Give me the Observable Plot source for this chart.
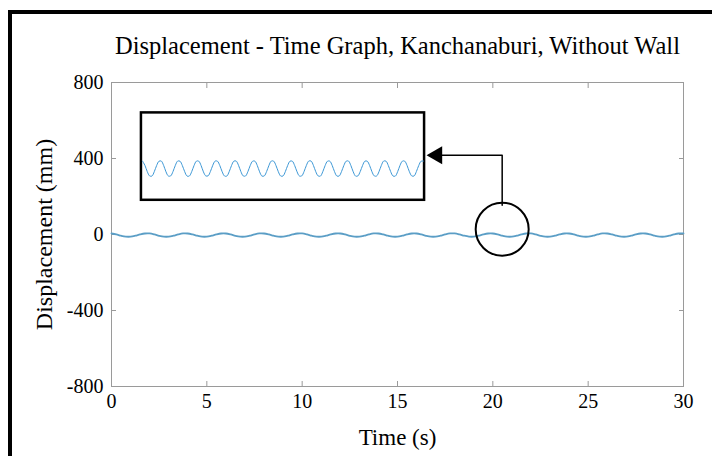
<!DOCTYPE html>
<html>
<head>
<meta charset="utf-8">
<script src="https://cdn.jsdelivr.net/npm/d3@7"></script>
<script src="https://cdn.jsdelivr.net/npm/@observablehq/plot@0.6"></script>
<style>
  html, body { margin: 0; padding: 0; background: #fff; overflow: hidden; width: 712px; height: 456px; }
  #wrap { position: relative; width: 712px; height: 456px; }
  #chart { position: absolute; left: 0; top: 0; }
  #border { position: absolute; left: 8px; top: 10px; width: 760px; height: 520px;
            border: 4px solid #000; box-sizing: border-box; pointer-events: none; }
</style>
</head>
<body>
<div id="wrap"><div id="chart"></div><div id="border"></div></div>
<script>
// Displacement response (mm), sampled every 0.25 s from 0 to 30 s
const sampleInterval = 0.25;
const displacement = [
  5.3, 0.6, -6.4, -11.2, -11.4, -6.5, 0.4, 5.2,
  5.4, 0.5, -6.6, -11.3, -11.2, -6.3, 0.6, 5.4,
  5.2, 0.3, -6.5, -11.4, -11.3, -6.4, 0.5, 5.3,
  5.3, 0.4, -6.7, -11.2, -11.1, -6.2, 0.7, 5.4,
  5.2, 0.4, -6.5, -11.3, -11.4, -6.5, 0.4, 5.3,
  5.4, 0.6, -6.4, -11.2, -11.3, -6.4, 0.5, 5.2,
  5.3, 0.5, -6.6, -11.4, -11.2, -6.3, 0.6, 5.4,
  5.3, 0.4, -6.5, -11.3, -11.3, -6.4, 0.5, 5.3,
  5.2, 0.3, -6.6, -11.3, -11.2, -6.3, 0.6, 5.4,
  5.4, 0.5, -6.5, -11.2, -11.4, -6.5, 0.4, 5.2,
  5.3, 0.6, -6.4, -11.3, -11.3, -6.4, 0.5, 5.3,
  5.4, 0.4, -6.6, -11.4, -11.2, -6.3, 0.5, 5.3,
  5.2, 0.5, -6.5, -11.2, -11.3, -6.5, 0.4, 5.4,
  5.3, 0.4, -6.4, -11.3, -11.4, -6.4, 0.6, 5.3,
  5.3, 0.5, -6.5, -11.2, -11.3, -6.3, 0.5, 5.2,
  5.4
];

const xTicks = [0, 5, 10, 15, 20, 25, 30];
const yTicks = [-800, -400, 0, 400, 800];

const titleText = "Displacement - Time Graph, Kanchanaburi, Without Wall";
const xLabel = "Time (s)";
const yLabel = "Displacement (mm)";

// Magnified view of the whole record, drawn inside a framed box
const insetBox = {t1: 1.57, t2: 16.42, d1: 180, d2: 640};
const insetView = {t0: 1.63, tScale: 0.491, d0: 347, dScale: 4.7, dMean: -3};

// Callout: circle on the trace and leader line to the box
const callout = {t: 20.49, d: 28};
const leader = [{t: 20.49, d: 154}, {t: 20.49, d: 417}, {t: 17.3, d: 417}];
const arrowHead = {t: 17.07, d: 417};

const series = displacement.map((d, i) => ({t: i * sampleInterval, d}));
const insetSeries = series.map(({t, d}) => ({
  t: insetView.t0 + insetView.tScale * t,
  d: insetView.d0 + insetView.dScale * (d - insetView.dMean)
}));

const axisGray = "#9a9a9a";
const plainNumber = (d) => String(d);

const chart = Plot.plot({
  width: 712,
  height: 456,
  marginLeft: 111,
  marginRight: 29,
  marginTop: 82,
  marginBottom: 70,
  style: {fontFamily: "'Liberation Serif', 'DejaVu Serif', serif", fontSize: "20px", color: "#000", background: "transparent"},
  x: {domain: [0, 30]},
  y: {domain: [-800, 800]},
  marks: [
    Plot.frame({stroke: axisGray, strokeWidth: 1}),
    Plot.axisX(xTicks, {anchor: "bottom", tickSize: -5, tickPadding: 12, tickFormat: plainNumber, stroke: axisGray, fill: "#000", fontSize: 20, label: null}),
    Plot.axisX(xTicks, {anchor: "top", tickSize: -5, tickFormat: () => "", stroke: axisGray, label: null}),
    Plot.axisY(yTicks, {anchor: "left", tickSize: -5, tickPadding: 13, tickFormat: plainNumber, stroke: axisGray, fill: "#000", fontSize: 20, label: null}),
    Plot.axisY(yTicks, {anchor: "right", tickSize: -5, tickFormat: () => "", stroke: axisGray, label: null}),

    Plot.line(series, {x: "t", y: "d", stroke: "#5b9ec6", strokeWidth: 1.8, curve: "catmull-rom"}),

    Plot.rect([insetBox], {x1: "t1", x2: "t2", y1: "d1", y2: "d2", fill: "none", stroke: "#000", strokeWidth: 2.5}),
    Plot.line(insetSeries, {x: "t", y: "d", stroke: "#3d98d6", strokeWidth: 1, curve: "catmull-rom"}),

    Plot.dot([callout], {x: "t", y: "d", r: 26.5, fill: "none", stroke: "#000", strokeWidth: 2}),
    Plot.line(leader, {x: "t", y: "d", stroke: "#000", strokeWidth: 1.5}),
    Plot.dot([arrowHead], {x: "t", y: "d", symbol: "triangle", r: 6.7, rotate: -90, fill: "#000", stroke: "none"}),

    Plot.text([titleText], {frameAnchor: "top", dy: -36, fontSize: 24.5, lineAnchor: "middle", textAnchor: "middle", fill: "#000"}),
    Plot.text([xLabel], {frameAnchor: "bottom", dy: 51, fontSize: 23, lineAnchor: "middle", textAnchor: "middle", fill: "#000"}),
    Plot.text([yLabel], {frameAnchor: "left", dx: -67, rotate: -90, fontSize: 24, lineAnchor: "middle", textAnchor: "middle", fill: "#000"})
  ]
});

document.getElementById("chart").appendChild(chart);
</script>
</body>
</html>
